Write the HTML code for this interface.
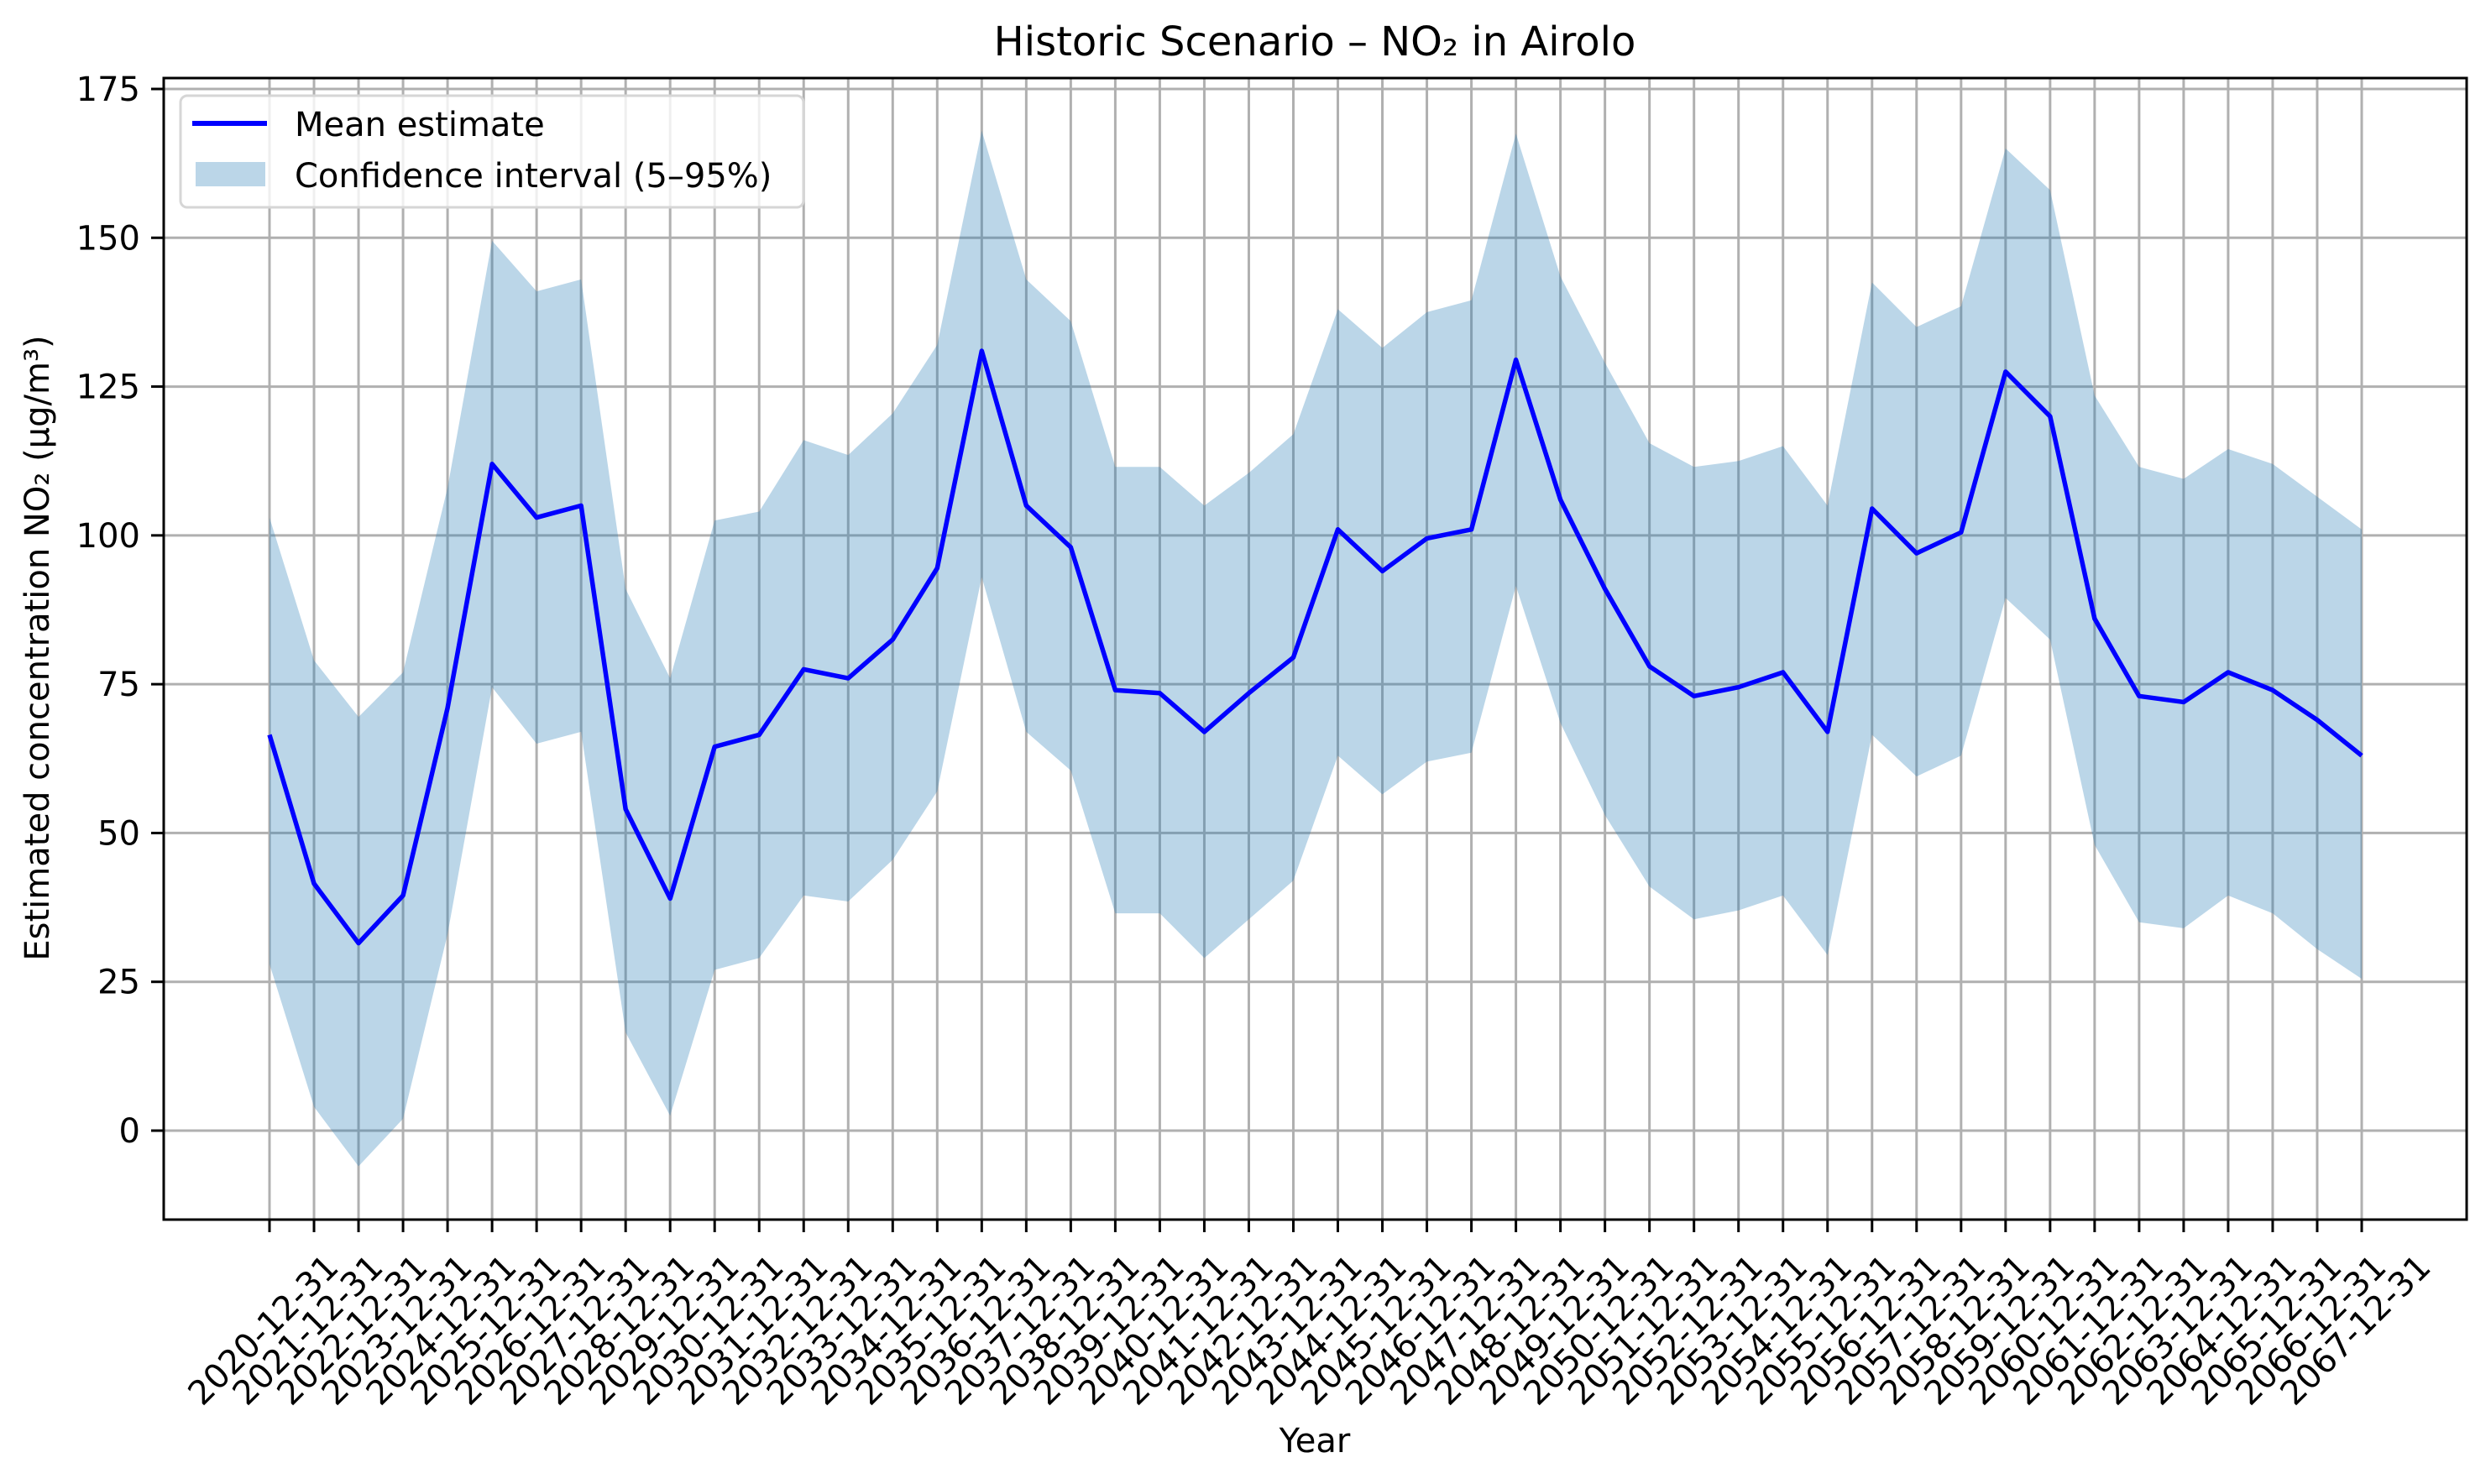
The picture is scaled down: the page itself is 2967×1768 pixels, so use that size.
<!DOCTYPE html>
<html><head><meta charset="utf-8"><style>
html,body{margin:0;padding:0;background:#fff;}
svg{display:block;font-family:"DejaVu Sans","Liberation Sans",sans-serif;}
</style></head><body>
<svg id="chart" width="2967" height="1768" viewBox="0 0 2967 1768" xmlns="http://www.w3.org/2000/svg">
<rect width="2967" height="1768" fill="#fff"/>
<g id="grid"></g>
<g id="series"></g>
<g id="axes"></g>
<text x="1566" y="66" font-size="48" text-anchor="middle">Historic Scenario – NO₂ in Airolo</text>
<text x="1566" y="1730" font-size="40" text-anchor="middle">Year</text>
<text transform="translate(58,772) rotate(-90)" font-size="40" text-anchor="middle">Estimated concentration NO₂ (µg/m³)</text>
<g>
<rect x="215" y="114" width="742" height="133" rx="8" fill="#fff" fill-opacity="0.8" stroke="#d6d6d6" stroke-width="3"/>
<line x1="229" y1="147" x2="318" y2="147" stroke="#0000ff" stroke-width="6"/>
<text x="351" y="162" font-size="40">Mean estimate</text>
<rect x="233" y="193" width="83" height="29" fill="#1f77b4" fill-opacity="0.3"/>
<text x="351" y="223" font-size="40">Confidence interval (5–95%)</text>
</g>
</svg>
<script>
const years = [];
for (let y = 2020; y <= 2067; y++) years.push(y + "-12-31");
const meanValues = [66.5,41.5,31.5,39.5,71,112,103,105,54,39,64.5,66.5,77.5,76,82.5,94.5,131,105,98,74,73.5,67,73.5,79.5,101,94,99.5,101,129.5,106,91,78,73,74.5,77,67,104.5,97,100.5,127.5,120,86,73,72,77,74,69,63];
const upperValues = [103,79,69.5,77,108,149.5,141,143,91,76,102.5,104,116,113.5,120.5,132,168,143,136,111.5,111.5,105,110.5,117,138,131.5,137.5,139.5,167.5,143.5,129,115.5,111.5,112.5,115,105,142.5,135,138.5,165,158,123.5,111.5,109.5,114.5,112,106.5,101];
const lowerValues = [28,4,-6,2,33,74.5,65,67,16.5,2.5,27,29,39.5,38.5,45.5,57,93,67,60.5,36.5,36.5,29,35.5,42,63,56.5,62,63.5,91.5,68.5,53,41,35.5,37,39.5,29.5,66.5,59.5,63,89.5,82.5,48,35,34,39.5,36.5,30.5,25.5];
const yTicks = [0,25,50,75,100,125,150,175];

const L=195,R=2938,T=93,B=1453;
const X0=321,XSTEP=(2813-321)/47;
function xs(i){return X0+i*XSTEP;}
function ys(v){return 1347-v*(1347-106)/175;}
const NS="http://www.w3.org/2000/svg";
function mk(tag,attrs,parent){const e=document.createElementNS(NS,tag);for(const k in attrs)e.setAttribute(k,attrs[k]);parent.appendChild(e);return e;}
const grid=document.getElementById('grid'),series=document.getElementById('series'),axes=document.getElementById('axes');

years.forEach((lab,i)=>{
  const x=xs(i);
  const g=mk('line',{x1:x,y1:T,x2:x,y2:B,stroke:'#b0b0b0','stroke-width':3},grid);
  
  
  const t=mk('line',{x1:x,y1:B,x2:x,y2:B+15,stroke:'#000','stroke-width':3},axes);
  
  
  const tx=mk('text',{x:x-7,y:1585,'font-size':40,'text-anchor':'middle','dominant-baseline':'central',transform:`rotate(-45 ${x-7} 1585)`},axes);
  tx.textContent=lab;
  
  
});
yTicks.forEach(v=>{
  const y=ys(v);
  const g=mk('line',{x1:L,y1:y,x2:R,y2:y,stroke:'#b0b0b0','stroke-width':3},grid);
  
  
  const t=mk('line',{x1:L-15,y1:y,x2:L,y2:y,stroke:'#000','stroke-width':3},axes);
  
  
  const tx=mk('text',{x:L-28,y:y+14,'font-size':40,'text-anchor':'end'},axes);
  tx.textContent=String(v);
  
  
});
let d='';
upperValues.forEach((v,i)=>{d+=(i?'L':'M')+xs(i)+','+ys(v);});
for(let i=lowerValues.length-1;i>=0;i--){d+='L'+xs(i)+','+ys(lowerValues[i]);}
d+='Z';
const band=mk('path',{d:d,fill:'#1f77b4','fill-opacity':0.3},series);


const pts=meanValues.map((v,i)=>xs(i)+','+ys(v)).join(' ');
const line=mk('polyline',{points:pts,fill:'none',stroke:'#0000ff','stroke-width':5.5,'stroke-linejoin':'round'},series);


const frame=mk('rect',{x:L,y:T,width:R-L,height:B-T,fill:'none',stroke:'#000','stroke-width':3},axes);


</script>
</body></html>
